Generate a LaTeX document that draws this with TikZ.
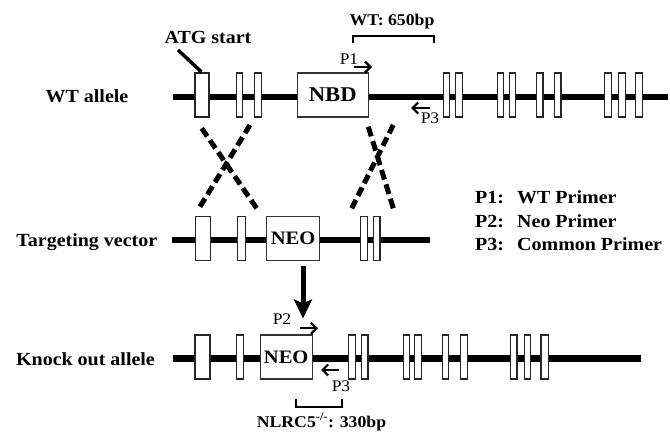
\documentclass[tikz,border=0pt]{standalone}
\usepackage{fontspec}
\setmainfont{Liberation Serif}[FakeStretch=1.08]
\usetikzlibrary{arrows.meta}
\newcommand\biglab{\fontsize{18.5}{21}\selectfont\bfseries}
\newcommand\midlab{\fontsize{16.4}{19}\selectfont\bfseries}
\newcommand\plab{\fontsize{16.2}{18}\selectfont}
\tikzset{
  backbone/.style={line width=6.5pt},
  exon/.style={draw=black!85, line width=1.1pt, fill=white, inner sep=0pt, minimum height=44pt},
  cassette/.style={draw=black!80, line width=1.1pt, fill=white, inner sep=0pt, minimum height=44pt},
  txt/.style={inner sep=0pt, anchor=base},
  primer/.style={line width=2.2pt, -{Straight Barb[length=5.5pt,width=11pt]}},
  bracket/.style={line width=2.3pt},
  cross/.style={line width=5pt},
  bigarrow/.style={line width=5pt, -{Stealth[length=19pt,width=18pt,inset=4pt]}}
}
\begin{document}
\begin{tikzpicture}[x=1pt,y=-1pt]
\useasboundingbox (0,0) rectangle (670,433);

% ---------- WT allele ----------
\coordinate (wL) at (173,97);
\coordinate (wR) at (668,97);
\draw[backbone] (wL) -- (wR);
\node[exon, minimum width=14pt] (w1) at (202,95) {};
\foreach \x/\n in {239.3/w2, 258/w3, 446.3/w4, 459/w5, 500.3/w6, 512.3/w7, 539.7/w8, 557.7/w9, 608/w10, 622/w11}
  \node[exon, minimum width=6.5pt] (\n) at (\x,95) {};
\node[exon, minimum width=7.5pt] (w12) at (638.8,95) {};
\node[cassette, minimum width=71pt, font=\fontsize{21}{23}\selectfont\bfseries] (nbd) at (332.8,95) {NBD};
\node[txt, font=\biglab] (wtlab) at (87,102.5) {WT allele};

% ATG start
\node[txt, font=\biglab] (atg) at (208,43.3) {ATG start};
\coordinate (atgtip) at (201.5,72);
\draw[line width=3.5pt] (178,50) -- (atgtip);

% WT product bracket
\node[txt, font=\midlab] (wtbp) at (392,25.3) {WT: 650bp};
\draw[bracket] (352.7,43.5) -- (352.7,36) -- (434.3,36) -- (434.3,43.5);

% primers on WT allele
\node[txt, font=\plab] (p1) at (349,65) {P1};
\coordinate (p1s) at (354,67);
\coordinate (p1e) at (372,67);
\draw[primer] (p1s) -- (p1e);
\node[txt, font=\plab] (p3a) at (430,124) {P3};
\coordinate (p3as) at (430,108);
\coordinate (p3ae) at (411,108);
\draw[primer] (p3as) -- (p3ae);

% ---------- crossovers ----------
\draw[cross, dash pattern=on 9.7pt off 4.85pt] (201.7,128.3) -- (256.7,208.3);
\draw[cross, dash pattern=on 9.58pt off 4.79pt] (250,125) -- (200,206.7);
\draw[cross, dash pattern=on 10.05pt off 5.02pt] (368.3,126.7) -- (393.3,208.3);
\draw[cross, dash pattern=on 9.31pt off 4.65pt] (393.3,125) -- (351.7,208.3);

% ---------- Targeting vector ----------
\coordinate (tL) at (172,240);
\coordinate (tR) at (430,240);
\draw[backbone] (tL) -- (tR);
\node[exon, minimum width=15pt] (t1) at (203,238.5) {};
\node[exon, minimum width=7.5pt] (t2) at (241.5,238.5) {};
\node[exon, minimum width=6.5pt] (t3) at (363.8,238.5) {};
\node[exon, minimum width=6.5pt] (t4) at (376.7,238.5) {};
\node[cassette, minimum width=52.6pt, font=\fontsize{19}{21}\selectfont\bfseries] (tneo) at (293,238.5) {NEO};
\node[txt, font=\biglab] (tvlab) at (86.8,247) {Targeting vector};

% big down arrow
\coordinate (arrEnd) at (303,318.5);
\draw[bigarrow, shorten <=4.5pt] (tneo.south -| arrEnd) -- (arrEnd);

% ---------- Knock out allele ----------
\coordinate (kL) at (173,358.3);
\coordinate (kR) at (641,358.3);
\draw[backbone] (kL) -- (kR);
\node[exon, minimum width=15pt] (k1) at (202.5,357) {};
\node[exon, minimum width=7pt] (k2) at (239.7,357) {};
\foreach \x/\n in {352/k3, 364.7/k4, 406.3/k5, 417.8/k6, 445.3/k7, 464/k8, 513.7/k9, 527.5/k10}
  \node[exon, minimum width=6.5pt] (\n) at (\x,357) {};
\node[exon, minimum width=7.5pt] (k11) at (544.7,357) {};
\node[cassette, minimum width=52.3pt, font=\fontsize{19}{21}\selectfont\bfseries] (kneo) at (286.2,357) {NEO};
\node[txt, font=\biglab] (kolab) at (85.5,365) {Knock out allele};

% primers on KO allele
\node[txt, font=\plab] (p2) at (282,324.5) {P2};
\coordinate (p2s) at (300,328.3);
\coordinate (p2e) at (318,328.3);
\draw[primer] (p2s) -- (p2e);
\node[txt, font=\plab] (p3b) at (341,391) {P3};
\coordinate (p3bs) at (338.5,370);
\coordinate (p3be) at (321,370);
\draw[primer] (p3bs) -- (p3be);

% KO product bracket
\draw[bracket] (295.7,399) -- (295.7,407.3) -- (342.3,407.3) -- (342.3,399);
\node[txt, font=\midlab] (kobp) at (321.5,427) {NLRC5\textsuperscript{-/-}: 330bp};

% ---------- legend ----------
\node[txt, anchor=base west, font=\biglab] (l1a) at (475,203.5) {P1:};
\node[txt, anchor=base west, font=\biglab] (l1b) at (517,203.5) {WT Primer};
\node[txt, anchor=base west, font=\biglab] (l2a) at (475,227) {P2:};
\node[txt, anchor=base west, font=\biglab] (l2b) at (517,227) {Neo Primer};
\node[txt, anchor=base west, font=\biglab] (l3a) at (475,251) {P3:};
\node[txt, anchor=base west, font=\biglab] (l3b) at (517,251) {Common Primer};
\end{tikzpicture}
\end{document}
